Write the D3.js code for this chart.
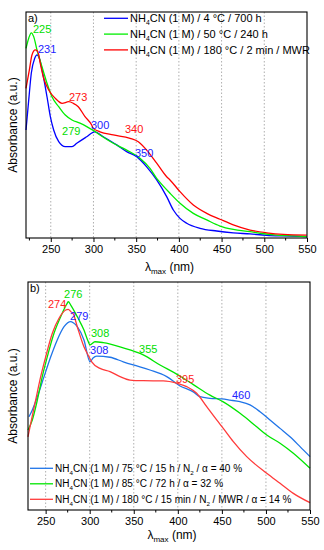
<!DOCTYPE html>
<html><head><meta charset="utf-8">
<script src="https://cdn.jsdelivr.net/npm/d3@7/dist/d3.min.js"></script>
<style>body{margin:0;background:#fff}svg{display:block}text{font-family:"Liberation Sans",Arial,sans-serif}</style>
</head><body>
<svg id="c" width="324" height="550"></svg>
<script>
// ---------- DATA ----------
const xTicks = [250, 300, 350, 400, 450, 500, 550];
const gridTicks = [250, 300, 350, 400, 450, 500];

// Panel a : [lambda (nm), absorbance (a.u.)]
const a_blue = [[221,0.478],[224.2,0.611],[227.2,0.729],[231.2,0.795],[233.9,0.810],[236.6,0.795],[240.6,0.729],[245.6,0.625],[249.5,0.537],[253.4,0.478],[259.3,0.426],[267.0,0.404],[274.9,0.404],[280.4,0.419],[292.1,0.448],[301.4,0.470],[311.5,0.448],[327.2,0.412],[338.9,0.382],[350.6,0.360],[362.3,0.315],[374.0,0.257],[385.7,0.183],[393.5,0.124],[401.3,0.087],[409.2,0.065],[424.7,0.043],[444.3,0.031],[463.7,0.023],[483.3,0.018],[502.8,0.012],[522.3,0.009],[549.7,0.006]];
const a_green = [[221,0.839],[224.2,0.884],[227.2,0.908],[230.0,0.891],[233.9,0.832],[239.7,0.758],[245.6,0.685],[251.4,0.625],[259.3,0.581],[267.0,0.544],[274.9,0.522],[284.2,0.508],[292.1,0.493],[299.8,0.476],[307.6,0.456],[323.2,0.419],[338.9,0.389],[354.5,0.353],[366.2,0.308],[374.0,0.264],[377.9,0.246],[389.6,0.198],[401.3,0.154],[416.9,0.109],[432.6,0.080],[448.1,0.053],[463.7,0.038],[483.3,0.028],[495.0,0.021],[514.5,0.013],[534.0,0.009],[549.7,0.006]];
const a_red = [[221,0.662],[224.9,0.743],[228.0,0.810],[231.9,0.832],[235.0,0.824],[237.7,0.773],[241.7,0.707],[247.6,0.655],[255.3,0.618],[263.2,0.596],[271.0,0.603],[276.4,0.596],[282.2,0.581],[290.1,0.537],[297.9,0.500],[299.8,0.485],[307.6,0.470],[323.2,0.456],[342.8,0.441],[352.5,0.426],[362.3,0.389],[374.0,0.331],[385.7,0.271],[389.6,0.257],[401.3,0.205],[416.9,0.146],[432.6,0.109],[448.1,0.083],[463.7,0.058],[483.3,0.035],[502.8,0.023],[522.3,0.016],[549.7,0.013]];
const a_names = ["NH|4|CN (1 M) / 4 °C / 700 h", "NH|4|CN (1 M) / 50 °C / 240 h", "NH|4|CN (1 M) / 180 °C / 2 min / MWR"];
const a_labels = [["225",1,229.2,0.907],["231",0,235.0,0.819],["273",2,271.3,0.606],["279",1,263.2,0.456],["300",0,297.1,0.482],["340",2,336.9,0.465],["350",0,348.6,0.358]];

// Panel b
const b_blue = [[231.1,0.409],[234.9,0.439],[240.6,0.497],[248.2,0.585],[255.8,0.672],[263.2,0.746],[270.9,0.804],[278.5,0.826],[281.4,0.821],[285.9,0.804],[293.5,0.746],[300.4,0.650],[303.8,0.667],[308.0,0.675],[323.0,0.670],[338.1,0.650],[349.5,0.636],[368.4,0.614],[387.4,0.585],[402.5,0.544],[417.6,0.518],[425.2,0.497],[436.5,0.490],[449.8,0.487],[459.2,0.482],[470.6,0.475],[481.9,0.461],[493.3,0.431],[504.6,0.395],[516.0,0.358],[527.3,0.321],[538.7,0.278],[550,0.234]];
const b_green = [[230,0.351],[234.9,0.395],[240.6,0.482],[246.2,0.585],[251.9,0.672],[259.5,0.775],[267.1,0.848],[274.6,0.907],[275.7,0.914],[278.5,0.899],[285.9,0.848],[293.5,0.789],[298.1,0.741],[300.4,0.724],[306.0,0.738],[315.4,0.734],[334.4,0.716],[345.7,0.702],[360.8,0.680],[379.8,0.636],[398.7,0.596],[417.6,0.550],[436.5,0.504],[451.6,0.474],[470.6,0.424],[489.5,0.365],[500.9,0.329],[516.0,0.293],[531.1,0.249],[550,0.183]];
const b_red = [[230,0.321],[233.1,0.380],[238.7,0.482],[244.4,0.585],[250.1,0.672],[257.6,0.775],[265.2,0.841],[272.8,0.877],[275.7,0.880],[278.5,0.870],[281.4,0.860],[285.9,0.804],[293.5,0.716],[298.1,0.680],[302.3,0.650],[311.7,0.621],[323.0,0.607],[334.4,0.585],[345.7,0.570],[360.8,0.567],[383.5,0.566],[398.7,0.556],[410.1,0.541],[421.4,0.512],[432.8,0.453],[444.1,0.395],[451.6,0.358],[463.0,0.300],[478.2,0.234],[500.9,0.161],[516.0,0.117],[531.1,0.073],[550,0.032]];
const b_names = ["NH|4|CN (1 M) / 75 °C / 15 h / N|2| / α = 40 %", "NH|4|CN (1 M) / 85 °C / 72 h / α = 32 %", "NH|4|CN (1 M) / 180 °C / 15 min / N|2| / MWR / α = 14 %"];
const b_labels = [["274",2,252.7,0.886],["276",1,270.9,0.930],["279",0,277.7,0.833],["308",1,301.5,0.759],["308",0,300.4,0.684],["355",1,356.0,0.689],["395",2,397.9,0.557],["460",0,461.5,0.487]];

// ---------- DRAW ----------
const svg = d3.select("#c");

function richText(sel, str, size) {
  const parts = str.split("|");
  parts.forEach((p, i) => {
    if (p === "") return;
    const sub = i % 2 === 1;
    sel.append("tspan").attr("font-size", sub ? size * 0.62 : size)
      .attr("dy", sub ? size * 0.28 : (i > 0 ? -size * 0.28 : 0)).text(p);
  });
}

function panel(cfg) {
  const x = d3.scaleLinear().domain(cfg.xdom).range([cfg.L, cfg.R]);
  const y = d3.scaleLinear().domain([0, 1]).range([cfg.B, cfg.T]);
  const g = svg.append("g");
  // grid
  g.selectAll(".grid").data(gridTicks).join("line")
    .attr("x1", d => x(d)).attr("x2", d => x(d)).attr("y1", cfg.T).attr("y2", cfg.B)
    .attr("stroke", "#9a9a9a").attr("stroke-width", 0.8).attr("stroke-dasharray", "1.5,2");
  // curves
  const line = d3.line().x(d => x(d[0])).y(d => y(d[1])).curve(d3.curveMonotoneX);
  cfg.series.forEach((s, i) => {
    g.append("path").datum(s).attr("d", line).attr("fill", "none")
      .attr("stroke", cfg.colors[i]).attr("stroke-width", 1.3);
  });
  // frame
  g.append("rect").attr("x", cfg.L).attr("y", cfg.T).attr("width", cfg.R - cfg.L).attr("height", cfg.B - cfg.T)
    .attr("fill", "none").attr("stroke", "#000").attr("stroke-width", 1.1);
  // axis
  const ax = g.append("g").attr("transform", `translate(0,${cfg.B})`)
    .call(d3.axisBottom(x).tickValues(xTicks).tickSize(4).tickSizeOuter(0).tickPadding(3));
  ax.select(".domain").remove();
  ax.selectAll("text").attr("font-size", 11).attr("font-family", '"Liberation Sans",Arial,sans-serif').attr("fill", "#000");
  const minor = d3.range(cfg.xdom[0] < 225 ? 225 : 275, 550, 50);
  g.selectAll(".minor").data(minor).join("line")
    .attr("x1", d => x(d)).attr("x2", d => x(d)).attr("y1", cfg.B).attr("y2", cfg.B + 2.5)
    .attr("stroke", "#000").attr("stroke-width", 1);
  // x label
  const xl = g.append("text").attr("x", (cfg.L + cfg.R) / 2 + 3).attr("y", cfg.xlabY)
    .attr("text-anchor", "middle").attr("font-size", 12);
  xl.append("tspan").text("λ");
  xl.append("tspan").attr("font-size", 8).attr("dy", 3).text("max");
  xl.append("tspan").attr("dy", -3).text(" (nm)");
  // y label
  g.append("text").attr("transform", `translate(${cfg.ylabX},${(cfg.T + cfg.B) / 2 + cfg.ylabOff}) rotate(-90)`)
    .attr("text-anchor", "middle").attr("font-size", 12).text("Absorbance (a.u.)");
  // panel letter
  g.append("text").attr("x", cfg.L + 2).attr("y", cfg.T + 10).attr("font-size", 11).text(cfg.letter);
  // peak labels
  cfg.labels.forEach(l => {
    g.append("text").attr("x", x(l[2])).attr("y", y(l[3])).attr("font-size", 11)
      .attr("fill", cfg.labelColors[l[1]]).text(l[0]);
  });
  // legend
  cfg.names.forEach((n, i) => {
    const ly = cfg.legY + i * cfg.legDy;
    g.append("line").attr("x1", cfg.legX).attr("x2", cfg.legX + cfg.legW).attr("y1", ly).attr("y2", ly)
      .attr("stroke", cfg.colors[i]).attr("stroke-width", 1.3);
    const t = g.append("text").attr("x", cfg.legX + cfg.legW + 2).attr("y", ly + cfg.legFs * 0.36)
      .attr("font-size", cfg.legFs);
    richText(t, n, cfg.legFs);
  });
}

panel({
  xdom: [221, 550], L: 26, R: 307, T: 12, B: 238,
  series: [a_blue, a_green, a_red], colors: ["#0000ff", "#00ee00", "#ff0000"],
  labelColors: ["#2222ff", "#00dd00", "#ff1111"],
  labels: a_labels, names: a_names, letter: "a)",
  legX: 104, legW: 24, legY: 18.3, legDy: 15.8, legFs: 11,
  xlabY: 271, ylabX: 17, ylabOff: 0
});
panel({
  xdom: [230, 550], L: 28, R: 310, T: 282, B: 510,
  series: [b_blue, b_green, b_red], colors: ["#1f74e8", "#00e600", "#ff3a3a"],
  labelColors: ["#2222ff", "#00dd00", "#ff2222"],
  labels: b_labels, names: b_names, letter: "b)",
  legX: 30, legW: 23, legY: 468.3, legDy: 15.5, legFs: 10,
  xlabY: 539, ylabX: 17, ylabOff: 0
});
</script>
</body></html>
